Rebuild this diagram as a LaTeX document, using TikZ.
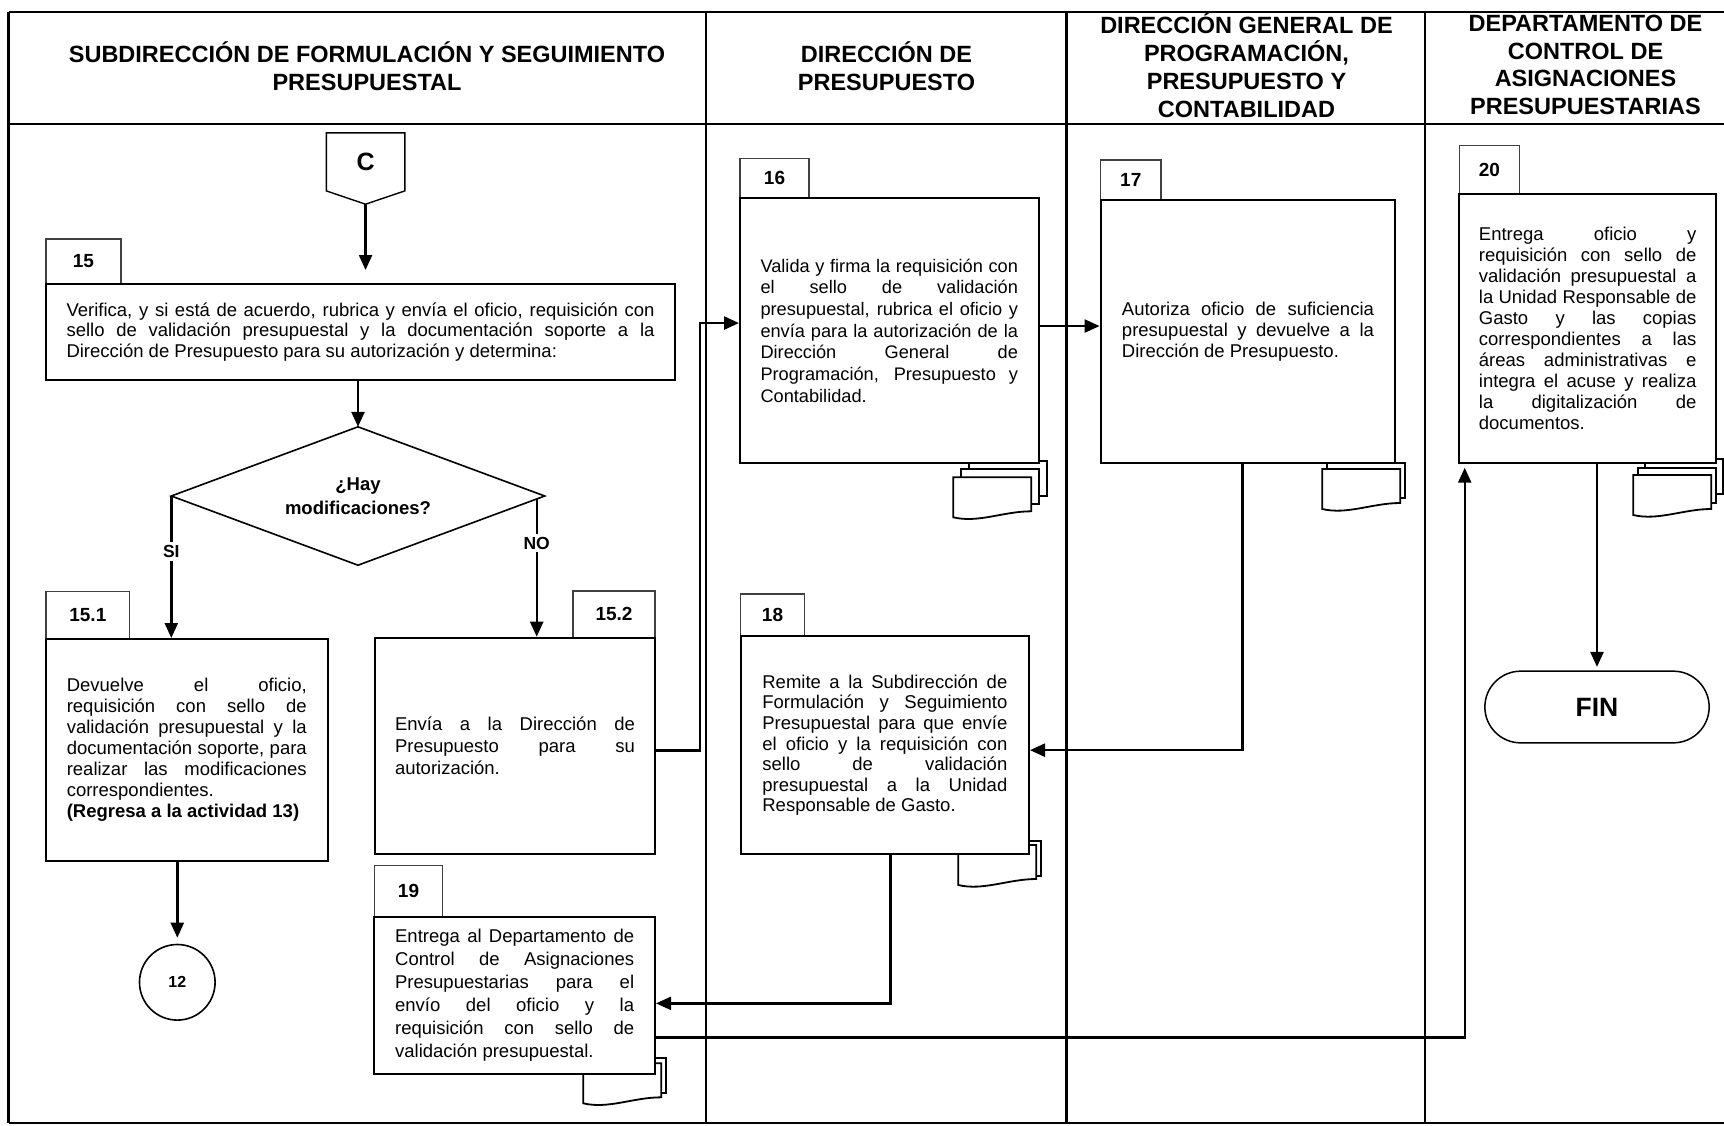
\documentclass[tikz,border=0pt]{standalone}
\usepackage{fontspec}
\setmainfont{Liberation Sans}
\usetikzlibrary{arrows.meta, shapes.misc, calc}

% process texts are justified with hand-set line ends
\tolerance=10000
\hbadness=10000
\hyphenpenalty=10000
\exhyphenpenalty=10000

\tikzset{
  frame/.style={line width=2.2pt},
  lanehead/.style={font=\bfseries\fontsize{23.5}{27.8}\selectfont, align=center, inner sep=0pt},
  proc/.style={draw, line width=2pt, fill=white, inner sep=0pt, align=justify,
               font=\fontsize{18.5}{21.3}\selectfont},
  tabbox/.style={draw=black!75, line width=1.1pt, fill=white, inner sep=0pt,
                 font=\bfseries\fontsize{19}{22}\selectfont},
  decision/.style={draw=none, inner sep=0pt, align=center,
                   font=\bfseries\fontsize{18.5}{23.5}\selectfont},
  branchlbl/.style={fill=white, inner sep=3pt, font=\bfseries\fontsize{17.5}{20}\selectfont},
  conn/.style={line width=2.4pt},
  arr/.style={conn, -{Triangle[length=15pt, width=13pt]}},
  docline/.style={line width=1.8pt, fill=white},
  backsheet/.pic={\draw[docline] (0,0) rectangle (78,35);},
  frontsheet/.pic={\draw[docline] (0,0) -- (78,0) -- (78,34)
      .. controls (50,34) and (25,46) .. (0,40) -- cycle;}
}

\begin{document}
\begin{tikzpicture}[x=1pt, y=-1pt]
\useasboundingbox (0,0) rectangle (1724,1125);

% ---- swimlane frame ----
\draw[frame] (8.5,12) -- (1735,12);
\draw[frame] (8.5,124) -- (1735,124);
\draw[frame] (8.5,1123) -- (1735,1123);
\draw[frame] (8.5,12) -- (8.5,1123);
\draw[frame] (706,12) -- (706,1123);
\draw[frame] (1066.5,12) -- (1066.5,1123);
\draw[frame] (1425,12) -- (1425,1123);

% ---- lane headings ----
\node[lanehead] (h1) at (367,66.5) {SUBDIRECCIÓN DE FORMULACIÓN Y SEGUIMIENTO\\PRESUPUESTAL};
\node[lanehead] (h2) at (886.5,66.5) {DIRECCIÓN DE\\PRESUPUESTO};
\node[lanehead] (h3) at (1246.5,65) {DIRECCIÓN GENERAL DE\\PROGRAMACIÓN,\\PRESUPUESTO Y\\CONTABILIDAD};
\node[lanehead] (h4) at (1585.5,65) {DEPARTAMENTO DE\\CONTROL DE\\ASIGNACIONES\\PRESUPUESTARIAS};

% ---- document stacks (behind the boxes) ----
\pic at (969.3,461) {backsheet};
\pic at (961,469.3) {backsheet};
\pic at (953.3,477.3) {frontsheet};
\pic at (1327.3,462.7) {backsheet};
\pic at (1322.3,469) {frontsheet};
\pic at (963.3,840.7) {backsheet};
\pic at (958.3,845) {frontsheet};
\pic at (588.3,1058.3) {backsheet};
\pic at (583.3,1063.3) {frontsheet};
\pic at (1645,459) {backsheet};
\pic at (1638.3,468.3) {backsheet};
\pic at (1633.3,475) {frontsheet};

% ---- activity number tabs ----
\node[tabbox, minimum width=75pt, minimum height=45pt] (t15) at (83.5,261.5) {15};
\node[tabbox, minimum width=83.7pt, minimum height=47.3pt] (t151) at (87.85,615.35) {15.1};
\node[tabbox, minimum width=82pt, minimum height=46.7pt] (t152) at (614,614.35) {15.2};
\node[tabbox, minimum width=69pt, minimum height=39.7pt] (t16) at (774.5,178.15) {16};
\node[tabbox, minimum width=60.4pt, minimum height=40pt] (t17) at (1130.8,180) {17};
\node[tabbox, minimum width=63.6pt, minimum height=42pt] (t18) at (772.5,615) {18};
\node[tabbox, minimum width=68.4pt, minimum height=51pt] (t19) at (408.5,891.2) {19};
\node[tabbox, minimum width=60pt, minimum height=48.3pt] (t20) at (1489.3,169.85) {20};

% ---- off-page connector ----
\node[inner sep=0pt, minimum width=78.1pt, minimum height=57.7pt,
      font=\bfseries\fontsize{25}{30}\selectfont] (C) at (365.55,161.85) {C};
\coordinate (Ctip) at ([yshift=-13.3pt]C.south);
\draw[line width=1.4pt] (C.north west) -- (C.north east) -- (C.south east)
     -- (Ctip) -- (C.south west) -- cycle;

% ---- process boxes ----
\node[proc, minimum width=629pt, minimum height=96pt, text width=588pt,
      font=\fontsize{18.5}{20.8}\selectfont] (b15) at (360.5,332) {%
Verifica, y si está de acuerdo, rubrica y envía el oficio, requisición con\linebreak
sello de validación presupuestal y la documentación soporte a la\linebreak
Dirección de Presupuesto para su autorización y determina:};

% decision: the diamond is drawn through the side midpoints of the node
\node[decision, minimum width=373pt, minimum height=138pt] (dec) at (358,496) {¿Hay\\modificaciones?};
\draw[line width=1.6pt] (dec.north) -- (dec.east) -- (dec.south) -- (dec.west) -- cycle;

\node[proc, minimum width=281.6pt, minimum height=222pt, text width=240pt,
      font=\fontsize{18.5}{21}\selectfont] (b151) at (186.8,750) {%
Devuelve el oficio,\linebreak
requisición con sello de\linebreak
validación presupuestal y la\linebreak
documentación soporte, para\linebreak
realizar las modificaciones\linebreak
correspondientes.\par
{\bfseries (Regresa a la actividad 13)}};

\node[proc, minimum width=280pt, minimum height=216.3pt, text width=240pt,
      font=\fontsize{18.5}{21.7}\selectfont] (b152) at (515,745.85) {%
Envía a la Dirección de\linebreak
Presupuesto para su\linebreak
autorización.};

\node[proc, minimum width=298.5pt, minimum height=265.3pt, text width=257.5pt,
      font=\fontsize{18.2}{21.7}\selectfont] (b16) at (889.25,330.65) {%
Valida y firma la requisición con\linebreak
el sello de validación\linebreak
presupuestal, rubrica el oficio y\linebreak
envía para la autorización de la\linebreak
Dirección General de\linebreak
Programación, Presupuesto y\linebreak
Contabilidad.};

\node[proc, minimum width=294.7pt, minimum height=263.3pt, text width=252pt] (b17) at (1247.95,331.65) {%
Autoriza oficio de suficiencia\linebreak
presupuestal y devuelve a la\linebreak
Dirección de Presupuesto.};

\node[proc, minimum width=288.3pt, minimum height=218.3pt, text width=245pt,
      font=\fontsize{18.5}{20.6}\selectfont] (b18) at (884.85,745.15) {%
Remite a la Subdirección de\linebreak
Formulación y Seguimiento\linebreak
Presupuestal para que envíe\linebreak
el oficio y la requisición con\linebreak
sello de validación\linebreak
presupuestal a la Unidad\linebreak
Responsable de Gasto.};

\node[proc, minimum width=280.7pt, minimum height=157.3pt, text width=239pt,
      font=\fontsize{18.5}{23}\selectfont] (b19) at (514.65,995.35) {%
Entrega al Departamento de\linebreak
Control de Asignaciones\linebreak
Presupuestarias para el\linebreak
envío del oficio y la\linebreak
requisición con sello de\linebreak
validación presupuestal.};

\node[proc, minimum width=256.7pt, minimum height=268.7pt, text width=217.5pt,
      font=\fontsize{18.5}{21}\selectfont] (b20) at (1587.65,328.35) {%
Entrega oficio y\linebreak
requisición con sello de\linebreak
validación presupuestal a\linebreak
la Unidad Responsable de\linebreak
Gasto y las copias\linebreak
correspondientes a las\linebreak
áreas administrativas e\linebreak
integra el acuse y realiza\linebreak
la digitalización de\linebreak
documentos.};

% ---- terminals ----
\node[circle, draw, line width=1.6pt, fill=white, minimum size=75.6pt, inner sep=0pt,
      font=\bfseries\fontsize{16}{19}\selectfont] (c12) at (177.3,982.3) {12};
\node[rounded rectangle, draw, line width=1.5pt, fill=white, minimum width=224.3pt,
      minimum height=71.7pt, inner sep=0pt,
      font=\bfseries\fontsize{26.5}{30}\selectfont] (fin) at (1597,707) {FIN};

% ---- connectors ----
\draw[arr, shorten >=13pt] (Ctip) -- (Ctip |- b15.north);
\draw[arr] (dec.north |- b15.south) -- (dec.north);
\draw[arr] (dec.west) -- (dec.west |- b151.north) node[branchlbl, pos=0.39] {SI};
\coordinate (nostart) at ($(dec.east)+(-8,3)$);
\draw[arr] (nostart) -- (nostart |- b152.north) node[branchlbl, pos=0.32] {NO};
\draw[arr, shorten >=6pt] (c12.north |- b151.south) -- (c12.north);
\draw[arr] ([yshift=-4.5pt]b152.east) -- ++(44,0) |- ([yshift=7.6pt]b16.west);
\draw[arr] ([yshift=4.6pt]b16.east) -- ([yshift=4.6pt]b16.east -| b17.west);
\draw[arr] ([xshift=-5.3pt]b17.south) |- ([yshift=-5pt]b18.east);
\draw[arr] ([xshift=5.8pt]b18.south) |- ([yshift=-8pt]b19.east);
\draw[arr, shorten >=4pt] ([yshift=-42pt]b19.east) -| ([xshift=6.4pt]b20.south west);
\draw[arr, shorten >=3.5pt] (fin.north |- b20.south) -- (fin.north);
\end{tikzpicture}
\end{document}
